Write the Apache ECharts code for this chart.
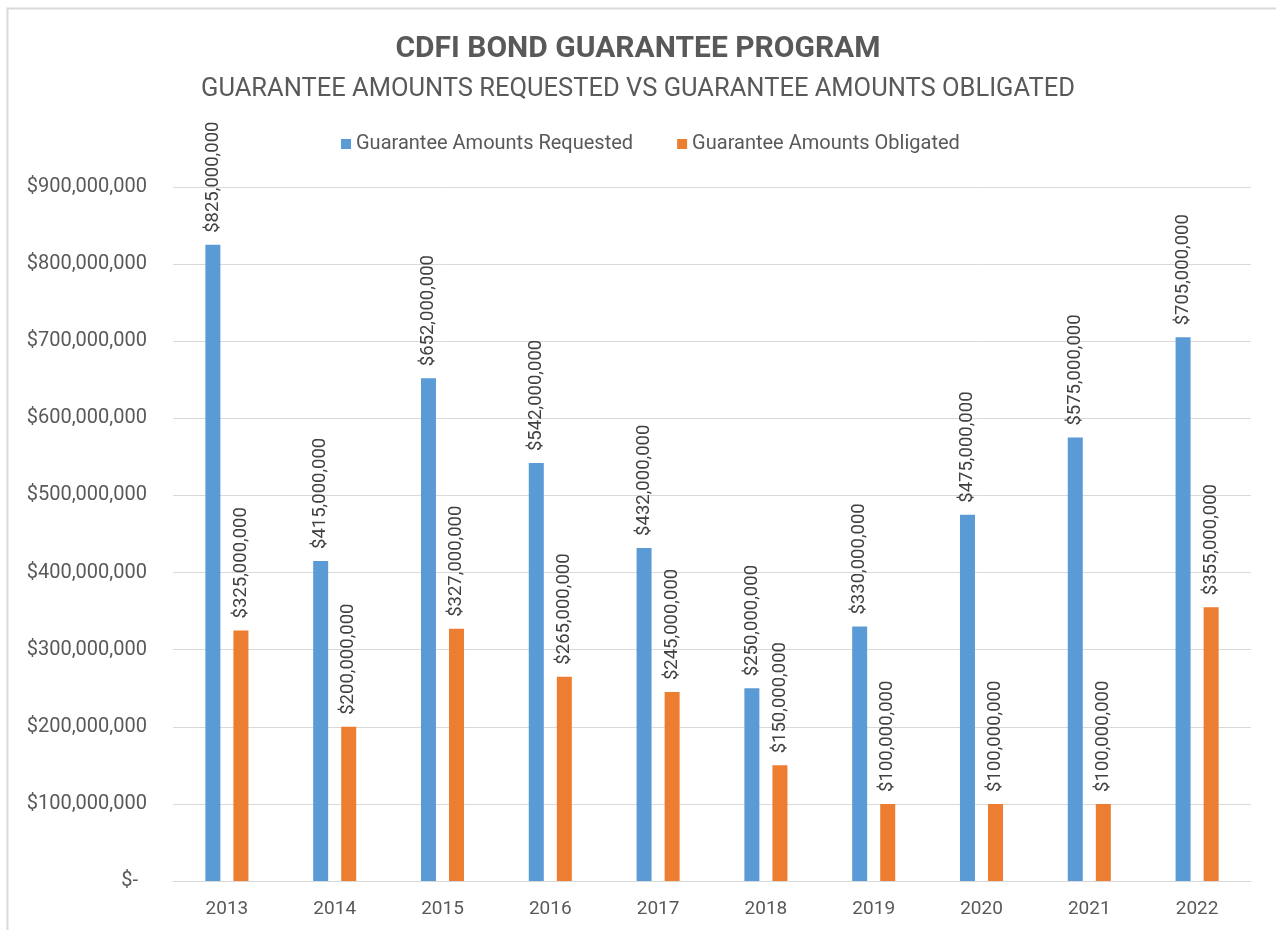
<!DOCTYPE html>
<html>
<head>
<meta charset="utf-8">
<script src="https://cdn.jsdelivr.net/npm/echarts@6/dist/echarts.min.js"></script>
<style>
    html, body { margin: 0; padding: 0; background: #fff; }
    #chart { width: 1276px; height: 930px; }
</style>
</head>
<body>
<div id="chart"></div>
<script>
// 数据
const years = ['2013', '2014', '2015', '2016', '2017', '2018', '2019', '2020', '2021', '2022'];
const requested = [825000000, 415000000, 652000000, 542000000, 432000000, 250000000, 330000000, 475000000, 575000000, 705000000];
const obligated = [325000000, 200000000, 327000000, 265000000, 245000000, 150000000, 100000000, 100000000, 100000000, 355000000];

const FONT = 'Roboto';

function money(v) {
    if (v === 0) return '$-';
    return '$' + v.toLocaleString('en-US');
}

const chart = echarts.init(document.getElementById('chart'));

const barLabel = {
    show: true,
    position: 'top',
    rotate: 90,
    align: 'left',
    verticalAlign: 'middle',
    distance: 12,
    color: '#404040',
    fontFamily: FONT,
    fontSize: 18.5,
    formatter: p => money(p.value)
};

const option = {
    backgroundColor: '#fff',
    animation: false,
    graphic: [{
        type: 'rect',
        shape: { x: 7.5, y: 8.5, width: 1300, height: 1000 },
        style: { fill: 'none', stroke: '#d9d9d9', lineWidth: 2 }
    }],
    title: [{
        text: 'CDFI BOND GUARANTEE PROGRAM',
        left: 'center',
        top: 29,
        textStyle: { fontFamily: FONT, fontSize: 30, fontWeight: 'bold', color: '#595959' }
    }, {
        text: 'GUARANTEE AMOUNTS REQUESTED VS GUARANTEE AMOUNTS OBLIGATED',
        left: 'center',
        top: 72,
        textStyle: { fontFamily: FONT, fontSize: 25.5, fontWeight: 'normal', color: '#595959' }
    }],
    legend: {
        top: 129,
        left: 336,
        itemWidth: 10,
        itemHeight: 10,
        itemGap: 44,
        icon: 'rect',
        textStyle: { fontFamily: FONT, fontSize: 20, color: '#595959' },
        data: ['Guarantee Amounts Requested', 'Guarantee Amounts Obligated']
    },
    grid: {
        left: 173,
        right: 25,
        top: 187,
        bottom: 49
    },
    xAxis: {
        type: 'category',
        data: years,
        axisLine: { lineStyle: { color: '#d9d9d9', width: 1 } },
        axisTick: { show: false },
        axisLabel: { color: '#595959', fontFamily: FONT, fontSize: 19, margin: 19 }
    },
    yAxis: {
        type: 'value',
        min: 0,
        max: 900000000,
        interval: 100000000,
        axisLine: { show: false },
        axisTick: { show: false },
        axisLabel: {
            color: '#595959',
            fontFamily: FONT,
            fontSize: 20,
            margin: 26,
            // 零值按会计格式显示，向左缩进
            formatter: v => v === 0 ? '{z|$-}' : money(v),
            rich: {
                z: { fontFamily: FONT, fontSize: 20, color: '#595959', padding: [0, 9, 0, 0] }
            }
        },
        splitLine: { lineStyle: { color: '#d9d9d9', width: 1 } }
    },
    series: [{
        name: 'Guarantee Amounts Requested',
        type: 'bar',
        data: requested,
        barWidth: 15,
        barGap: '87%',
        itemStyle: { color: '#5b9bd5' },
        label: barLabel
    }, {
        name: 'Guarantee Amounts Obligated',
        type: 'bar',
        data: obligated,
        barWidth: 15,
        itemStyle: { color: '#ed7d31' },
        label: barLabel
    }]
};

chart.setOption(option);

window.addEventListener('resize', () => {
    chart && chart.resize();
});
</script>
</body>
</html>
